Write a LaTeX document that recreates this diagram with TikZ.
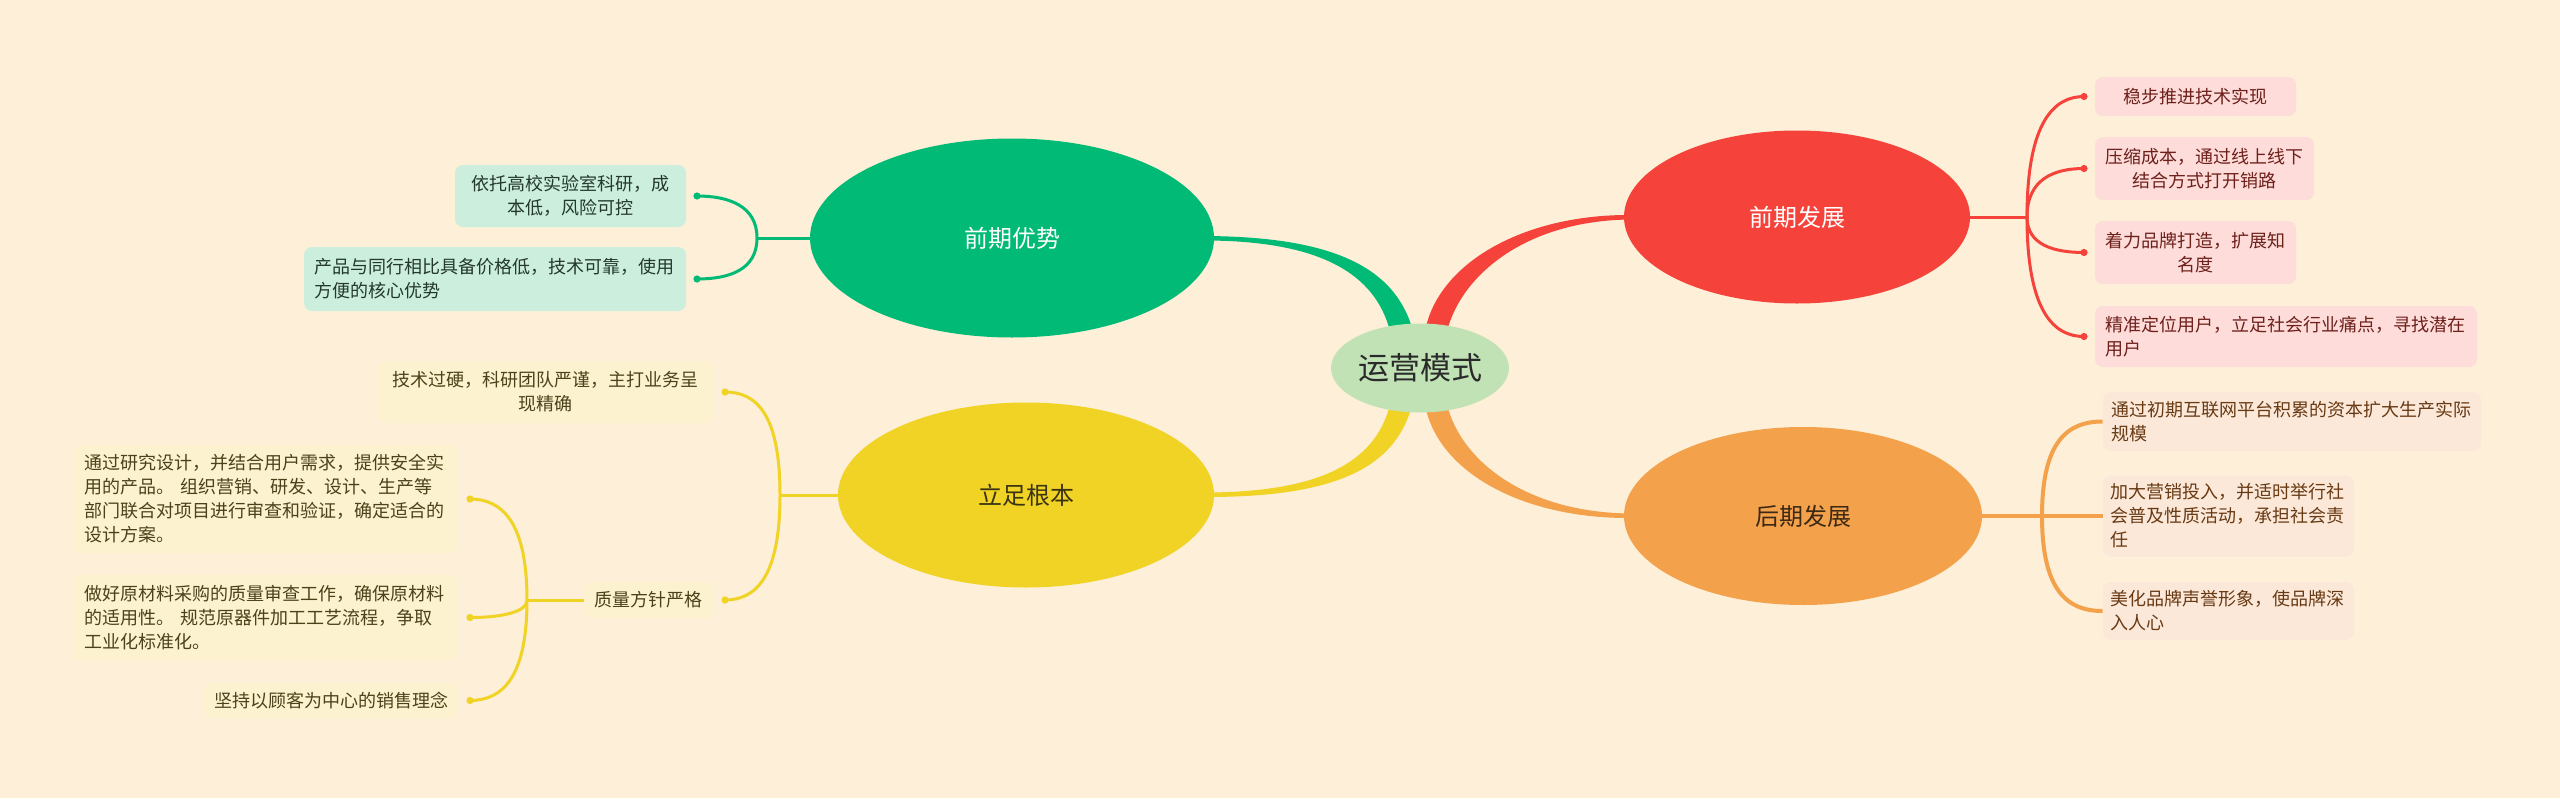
\documentclass[tikz,border=0pt]{standalone}
\usepackage{fontspec}
\setmainfont{Noto Sans CJK SC}
\usetikzlibrary{shapes.geometric,calc,backgrounds}
\definecolor{bg}{HTML}{FDEFD8}
\definecolor{cfill}{HTML}{C0E2B4}
\definecolor{ctext}{HTML}{2A2A2A}
\definecolor{gcol}{HTML}{00BA75}
\definecolor{gbox}{HTML}{CCEFDD}
\definecolor{gtext}{HTML}{24382E}
\definecolor{rcol}{HTML}{F5433B}
\definecolor{rbox}{HTML}{FDDCD9}
\definecolor{rtext}{HTML}{6E201B}
\definecolor{ocol}{HTML}{F4A14C}
\definecolor{obox}{HTML}{FCE8D8}
\definecolor{otext}{HTML}{683A14}
\definecolor{ycol}{HTML}{F0D325}
\definecolor{ybox}{HTML}{FDF2CF}
\definecolor{ytext}{HTML}{4A4219}
\definecolor{eytext}{HTML}{3A3412}
\definecolor{eotext}{HTML}{3D2A14}
\begin{document}
\begin{tikzpicture}[x=0.5pt,y=-0.5pt,
  leaf/.style={rounded corners=4pt, inner sep=0pt, font=\fontsize{9pt}{12pt}\selectfont},
  ell/.style={ellipse, inner sep=0pt},
  bdot/.style={circle, inner sep=0pt, minimum size=3.6pt},
  gline/.style={draw=gcol, line width=1.5pt},
  rline/.style={draw=rcol, line width=1.5pt},
  oline/.style={draw=ocol, line width=2pt},
  yline/.style={draw=ycol, line width=1.5pt}]
\useasboundingbox (0,0) rectangle (2560,798);

% main nodes
\node[ell, fill=cfill, minimum width=89pt, minimum height=44.5pt, text=ctext,
  font=\fontsize{15.5pt}{18pt}\selectfont] (c) at (1420,368) {运营模式};
\node[ell, fill=gcol, minimum width=202pt, minimum height=99.5pt, text=white,
  font=\fontsize{12pt}{14pt}\selectfont] (gE) at (1012,238) {前期优势};
\node[ell, fill=rcol, minimum width=173pt, minimum height=86.5pt, text=white,
  font=\fontsize{12pt}{14pt}\selectfont] (rE) at (1797,217) {前期发展};
\node[ell, fill=ocol, minimum width=179pt, minimum height=89pt, text=eotext,
  font=\fontsize{12pt}{14pt}\selectfont] (oE) at (1803,516) {后期发展};
\node[ell, fill=ycol, minimum width=188pt, minimum height=92.5pt, text=eytext,
  font=\fontsize{12pt}{14pt}\selectfont] (yE) at (1026,495) {立足根本};

% green leaves
\node[leaf, fill=gbox, text=gtext, minimum width=115.5pt, minimum height=31pt, text width=100pt, align=center] (g1) at (570.5,196) {依托高校实验室科研，成\\本低，风险可控};
\node[leaf, fill=gbox, text=gtext, minimum width=191pt, minimum height=32pt, text width=181pt, align=left] (g2) at (495,279) {产品与同行相比具备价格低，技术可靠，使用\\方便的核心优势};
% red leaves
\node[leaf, fill=rbox, text=rtext, minimum width=100.5pt, minimum height=19.5pt, text width=73pt, align=center] (r1) at (2195.5,96.5) {稳步推进技术实现};
\node[leaf, fill=rbox, text=rtext, minimum width=109.5pt, minimum height=31.5pt, text width=100pt, align=center] (r2) at (2204.5,168.5) {压缩成本，通过线上线下\\结合方式打开销路};
\node[leaf, fill=rbox, text=rtext, minimum width=100.5pt, minimum height=31.5pt, text width=91pt, align=center] (r3) at (2195.5,252.5) {着力品牌打造，扩展知\\名度};
\node[leaf, fill=rbox, text=rtext, minimum width=191pt, minimum height=30.5pt, text width=181pt, align=left] (r4) at (2286,336.5) {精准定位用户，立足社会行业痛点，寻找潜在\\用户};
% orange leaves
\node[leaf, fill=obox, text=otext, minimum width=189pt, minimum height=29.5pt, text width=181pt, align=left] (o1) at (2292,421.5) {通过初期互联网平台积累的资本扩大生产实际\\规模};
\node[leaf, fill=obox, text=otext, minimum width=125.5pt, minimum height=40.5pt, text width=118pt, align=left] (o2) at (2228.5,516) {加大营销投入，并适时举行社\\会普及性质活动，承担社会责\\任};
\node[leaf, fill=obox, text=otext, minimum width=125.5pt, minimum height=29pt, text width=118pt, align=left] (o3) at (2228.5,611) {美化品牌声誉形象，使品牌深\\入人心};
% yellow leaves
\node[leaf, fill=ybox, text=ytext, minimum width=168pt, minimum height=31pt, text width=154pt, align=center] (y0) at (545,392) {技术过硬，科研团队严谨，主打业务呈\\现精确};
\node[leaf, fill=ybox, text=ytext, minimum width=64.5pt, minimum height=18pt, text width=55pt, align=center] (yq) at (648.5,600) {质量方针严格};
\node[leaf, fill=ybox, text=ytext, minimum width=192.5pt, minimum height=54pt, text width=181pt, align=left] (yA) at (265.5,499) {通过研究设计，并结合用户需求，提供安全实\\用的产品。 组织营销、研发、设计、生产等\\部门联合对项目进行审查和验证，确定适合的\\设计方案。};
\node[leaf, fill=ybox, text=ytext, minimum width=192.5pt, minimum height=42.5pt, text width=181pt, align=left] (yB) at (265.5,617.5) {做好原材料采购的质量审查工作，确保原材料\\的适用性。 规范原器件加工工艺流程，争取\\工业化标准化。};
\node[leaf, fill=ybox, text=ytext, minimum width=127pt, minimum height=17.5pt, text width=118pt, align=center] (yC) at (331,700.5) {坚持以顾客为中心的销售理念};

% dots and junctions
\node[bdot, fill=gcol] (dg1) at (697,196) {};
\node[bdot, fill=gcol] (dg2) at (697,279) {};
\coordinate (jg) at (757,238);
\node[bdot, fill=rcol] (dr1) at (2084,96.5) {};
\node[bdot, fill=rcol] (dr2) at (2084,168.5) {};
\node[bdot, fill=rcol] (dr3) at (2084,252.5) {};
\node[bdot, fill=rcol] (dr4) at (2084,336.5) {};
\coordinate (jr) at (2027,217);
\coordinate (jo) at (2042,516);
\node[bdot, fill=ycol] (dy0) at (725,392) {};
\node[bdot, fill=ycol] (dyq) at (725,600) {};
\coordinate (jy) at (780,495);
\node[bdot, fill=ycol] (dyA) at (470,499) {};
\node[bdot, fill=ycol] (dyB) at (470,617.5) {};
\node[bdot, fill=ycol] (dyC) at (470,700.5) {};
\coordinate (jq) at (527,600);

\begin{scope}[on background layer]
\fill[bg] (0,0) rectangle (2560,798);
% tapered main branches
\fill[gcol] ($(c.north)+(-7,8)$) .. controls ($(c.north)+(-25,-58)$) and ($(gE.east)+(115,-1)$) .. ($(gE.east)+(-8,-2)$)
  -- ($(gE.east)+(-8,2.5)$) .. controls ($(gE.east)+(105,3)$) and ($(c.north)+(-45,-50)$) .. ($(c.north)+(-30,8)$) -- cycle;
\fill[rcol] ($(c.north)+(5,8)$) .. controls ($(c.north)+(18,-60)$) and ($(rE.west)+(-100,-3)$) .. ($(rE.west)+(8,-2)$)
  -- ($(rE.west)+(8,2.5)$) .. controls ($(rE.west)+(-95,3)$) and ($(c.north)+(42,-50)$) .. ($(c.north)+(27,8)$) -- cycle;
\fill[ycol] ($(c.south)+(-8,-8)$) .. controls ($(c.south)+(-25,58)$) and ($(yE.east)+(115,2)$) .. ($(yE.east)+(-8,2)$)
  -- ($(yE.east)+(-8,-2.5)$) .. controls ($(yE.east)+(105,-3)$) and ($(c.south)+(-45,50)$) .. ($(c.south)+(-30,-8)$) -- cycle;
\fill[ocol] ($(c.south)+(5,-8)$) .. controls ($(c.south)+(18,60)$) and ($(oE.west)+(-100,3)$) .. ($(oE.west)+(8,2)$)
  -- ($(oE.west)+(8,-2.5)$) .. controls ($(oE.west)+(-95,-3)$) and ($(c.south)+(42,50)$) .. ($(c.south)+(27,-8)$) -- cycle;

% green branches
\draw[gline] (gE.west) -- (jg);
\draw[gline] (jg) .. controls +(0,-32) and +(32,0) .. (dg1.center);
\draw[gline] (jg) .. controls +(0,32) and +(32,0) .. (dg2.center);
% red branches
\draw[rline] (rE.east) -- (jr);
\draw[rline] (jr) .. controls +(0,-95) and +(-30,0) .. (dr1.center);
\draw[rline] (jr) .. controls +(0,-38) and +(-30,0) .. (dr2.center);
\draw[rline] (jr) .. controls +(0,28) and +(-30,0) .. (dr3.center);
\draw[rline] (jr) .. controls +(0,95) and +(-30,0) .. (dr4.center);
% orange branches
\draw[oline] (oE.east) -- (o2.west);
\draw[oline] (jo) .. controls +(0,-75) and +(-35,0) .. (o1.west);
\draw[oline] (jo) .. controls +(0,75) and +(-35,0) .. (o3.west);
% yellow branches
\draw[yline] (yE.west) -- (jy);
\draw[yline] (jy) .. controls +(0,-80) and +(32,0) .. (dy0.center);
\draw[yline] (jy) .. controls +(0,80) and +(32,0) .. (dyq.center);
\draw[yline] (yq.west) -- (jq);
\draw[yline] (jq) .. controls +(0,-78) and +(32,0) .. (dyA.center);
\draw[yline] (jq) .. controls +(0,12) and +(32,0) .. (dyB.center);
\draw[yline] (jq) .. controls +(0,78) and +(32,0) .. (dyC.center);
\end{scope}
\end{tikzpicture}
\end{document}
